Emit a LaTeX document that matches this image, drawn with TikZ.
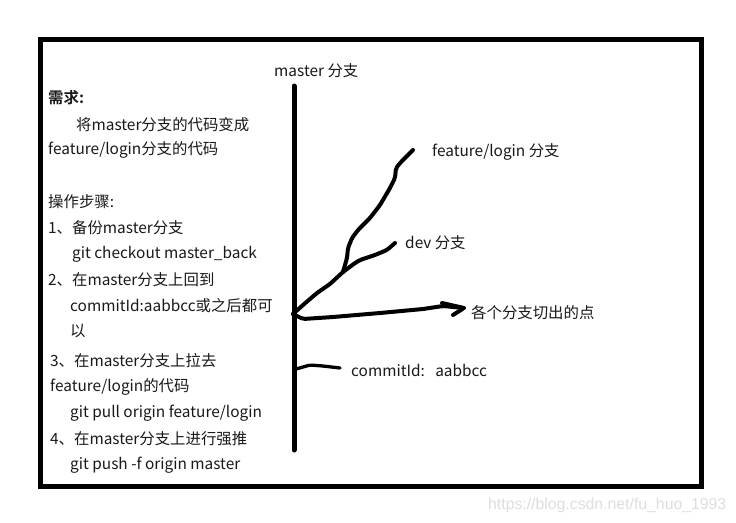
\documentclass[tikz,border=0pt]{standalone}
\usepackage{fontspec}
\setmainfont{Noto Sans CJK SC}[BoldFont={Noto Sans CJK SC Bold}]
\newfontfamily\wmfont{Liberation Sans}
\begin{document}
\begin{tikzpicture}[x=1pt,y=-1pt,
  txt/.style={anchor=west,inner sep=0pt,font=\fontsize{15.4}{17}\selectfont,text=black!90},
  pen/.style={line width=4pt,line cap=round,line join=round,rounded corners=2pt},
  frame/.style={line width=5pt}]
\useasboundingbox (0,0) rectangle (736,522);
\fill[white] (0,0) rectangle (736,522);
\draw[frame] (40,39) rectangle (701.5,486);
% left text
\node[txt,font=\fontsize{15.4}{17}\selectfont\bfseries] (t1) at (48,98) {需求:};
\node[txt] (t2) at (76,125) {将master分支的代码变成};
\node[txt] (t3) at (48,150) {feature/login分支的代码};
\node[txt] (t4) at (48,202) {操作步骤:};
\node[txt] (t5) at (48,228) {1、备份master分支};
\node[txt] (t6) at (72,254) {git checkout master\_back};
\node[txt] (t7) at (48,280) {2、在master分支上回到};
\node[txt] (t8) at (70,306) {commitId:aabbcc或之后都可};
\node[txt] (t9) at (70,331) {以};
\node[txt] (t10) at (50,361) {3、在master分支上拉去};
\node[txt] (t11) at (50,387) {feature/login的代码};
\node[txt] (t12) at (70,413) {git pull origin feature/login};
\node[txt] (t13) at (50,439) {4、在master分支上进行强推};
\node[txt] (t14) at (70,465) {git push -f origin master};
% right labels
\node[txt] (master) at (274,71) {master 分支};
\node[txt] (feat) at (432,152) {feature/login 分支};
\node[txt] (dev) at (405,243) {dev 分支};
\node[txt] (pt) at (471,313) {各个分支切出的点};
\node[txt] (cid) at (351,370) {commitId:\ \ \ aabbcc};
% master line
\coordinate (mtop) at (294,86);
\coordinate (mbot) at (294,450);
\draw[line width=5pt,line cap=round] (mtop) -- (mbot);
% branches
\coordinate (root) at (293,314);
\coordinate (junc) at (343,272);
\draw[pen] (root) -- (303,305) -- (317,293) -- (330,284) -- (junc);
\draw[pen] (junc) -- (347,258) -- (348,248) -- (352,238) -- (358,230) -- (370,218) -- (380,205) -- (390,188) -- (395,178) -- (396,168) -- (401,162) -- (413,150);
\draw[pen] (junc) -- (355,263) -- (360,260) -- (375,255) -- (387,250) -- (395,243);
% arrow
\coordinate (tip) at (464,308);
\draw[pen] (root) -- (303,319) -- (333,317) -- (380,313) -- (423,309) -- (443,306) -- (tip);
\draw[pen] (442,303) -- (tip) -- (453,315);
% commit tick
\draw[pen,line width=3.3pt] (296,369) -- (303,367) -- (310,365) -- (323,366) -- (340,368);
% watermark
\node[anchor=west,inner sep=0pt,text=black!13,font=\wmfont\fontsize{15.8}{17}\selectfont] (wm) at (488,505) {https://blog.csdn.net/fu\_huo\_1993};
\end{tikzpicture}
\end{document}
